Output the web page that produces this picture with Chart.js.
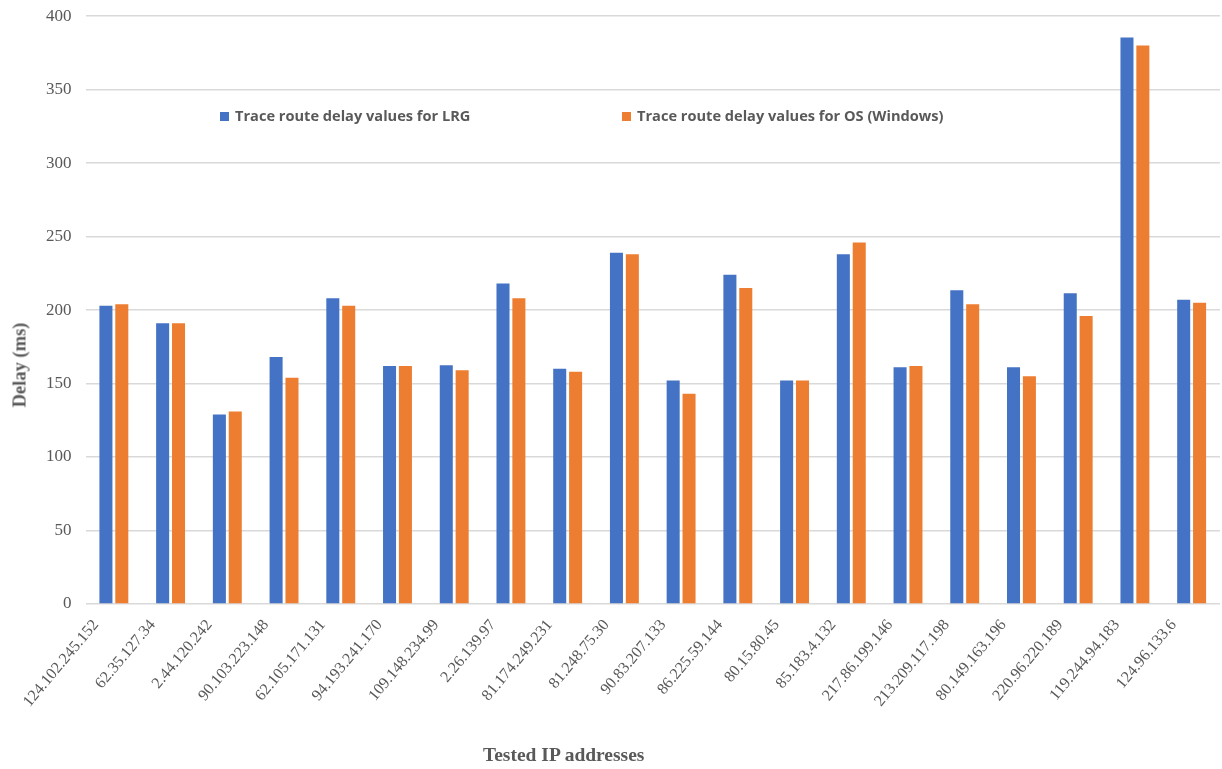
<!DOCTYPE html>
<html>
<head>
<meta charset="utf-8">
<script src="https://cdn.jsdelivr.net/npm/chart.js@4/dist/chart.umd.min.js"></script>
<style>
  body { margin: 0; background: #fff; }
  #wrap { position: relative; width: 1222px; height: 769px; overflow: hidden; }
  #chart { position: absolute; left: 0; top: -8px; }
  .legend-item { position: absolute; top: 105px; font: bold 14.6px "Open Sans", sans-serif; color: #595959; white-space: nowrap; }
  .legend-item span.box { display: inline-block; width: 9px; height: 9px; margin-right: 6px; vertical-align: 0px; }
  #xtitle { position: absolute; left: 483px; top: 744px; font: bold 19.5px "Liberation Serif", serif; color: #595959; }
  #ytitle { position: absolute; left: 20px; top: 365px; transform: translate(-50%, -50%) rotate(-90deg);
            font: bold 18.5px "Liberation Serif", serif; color: #595959; white-space: nowrap; }
</style>
</head>
<body>
<div id="wrap">
  <canvas id="chart" width="1222" height="777"></canvas>
  <div class="legend-item" style="left:220px"><span class="box" style="background:#4472C4"></span>Trace route delay values for LRG</div>
  <div class="legend-item" style="left:622px"><span class="box" style="background:#ED7D31"></span>Trace route delay values for OS (Windows)</div>
  <div id="ytitle">Delay (ms)</div>
  <div id="xtitle">Tested IP addresses</div>
</div>
<script>
// ---- data ----
const ipAddresses = [
  '124.102.245.152', '62.35.127.34', '2.44.120.242', '90.103.223.148', '62.105.171.131',
  '94.193.241.170', '109.148.234.99', '2.26.139.97', '81.174.249.231', '81.248.75.30',
  '90.83.207.133', '86.225.59.144', '80.15.80.45', '85.183.4.132', '217.86.199.146',
  '213.209.117.198', '80.149.163.196', '220.96.220.189', '119.244.94.183', '124.96.133.6'
];
const lrgDelay = [203, 191, 129, 168, 208, 162, 162.5, 218, 160, 239, 152, 224, 152, 238, 161, 213.5, 161, 211.5, 385.5, 207];
const osDelay  = [204, 191, 131, 154, 203, 162, 159, 208, 158, 238, 143, 215, 152, 246, 162, 204, 155, 196, 380, 205];
const seriesNames = ['Trace route delay values for LRG', 'Trace route delay values for OS (Windows)'];

const TEXT = '#595959';
const GRID = '#d9d9d9';

const ctx = document.getElementById('chart').getContext('2d');
new Chart(ctx, {
  type: 'bar',
  data: {
    labels: ipAddresses,
    datasets: [
      { label: seriesNames[0], data: lrgDelay, backgroundColor: '#4472C4' },
      { label: seriesNames[1], data: osDelay, backgroundColor: '#ED7D31' }
    ]
  },
  options: {
    responsive: false,
    animation: false,
    layout: { autoPadding: false, padding: { top: 7, right: 2, left: 32, bottom: 54 } },
    plugins: {
      legend: { display: false },
      tooltip: { enabled: false }
    },
    datasets: { bar: { categoryPercentage: 0.56, barPercentage: 0.82 } },
    scales: {
      x: {
        grid: { display: false },
        border: { display: false },
        ticks: {
          color: TEXT,
          font: { family: 'Liberation Serif', size: 16 },
          minRotation: 50,
          maxRotation: 50,
          autoSkip: false,
          labelOffset: -18,
          padding: 4
        }
      },
      y: {
        min: 0,
        max: 400,
        grid: { color: GRID, lineWidth: 1.5, drawTicks: false },
        border: { display: false },
        ticks: {
          stepSize: 50,
          color: TEXT,
          padding: 14,
          font: { family: 'Liberation Serif', size: 17 }
        }
      }
    }
  }
});
</script>
</body>
</html>
